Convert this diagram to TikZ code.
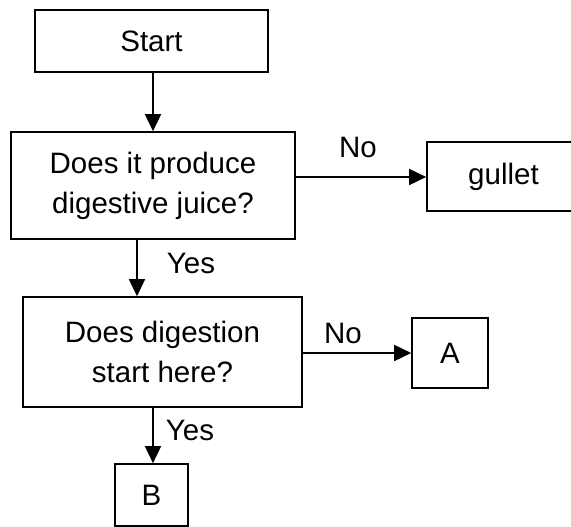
\documentclass[tikz,border=0pt]{standalone}
\usepackage{fontspec}
\setmainfont{Liberation Sans}
\usetikzlibrary{arrows.meta}
\begin{document}
\begin{tikzpicture}[x=1pt,y=-1pt,
  box/.style={draw, line width=1.6pt, inner sep=0pt, align=center,
    font=\fontsize{29.5}{40}\selectfont},
  lbl/.style={font=\fontsize{29.5}{34}\selectfont, inner sep=0pt},
  arr/.style={line width=1.6pt, -{Triangle[length=17pt,width=16pt]}}]
\useasboundingbox (0,0) rectangle (571,527);
\node[box, minimum width=233pt, minimum height=62pt] (start) at (151.5,41) {Start};
\node[box, minimum width=284pt, minimum height=107pt] (q1) at (153,185.5) {Does it produce\\digestive juice?};
\node[box, minimum width=153pt, minimum height=69pt, text width=153pt] (gullet) at (503.5,176.5) {gullet};
\node[box, minimum width=279pt, minimum height=110pt] (q2) at (162.5,352) {Does digestion\\start here?};
\node[box, minimum width=76pt, minimum height=70pt] (a) at (450,353) {A};
\node[box, minimum width=73pt, minimum height=62pt] (b) at (151.5,495) {B};
\coordinate (x1) at (153,0);
\coordinate (x2) at (137,0);
\coordinate (x3) at (153,0);
\coordinate (y1) at (0,177);
\coordinate (y2) at (0,353);
\draw[arr] (start.south -| x1) -- (q1.north -| x1);
\draw[arr] (q1.east |- y1) -- (gullet.west |- y1);
\draw[arr] (q1.south -| x2) -- (q2.north -| x2);
\draw[arr] (q2.east |- y2) -- (a.west |- y2);
\draw[arr] (q2.south -| x3) -- (b.north -| x3);
\node[lbl] (no1) at (358,147) {No};
\node[lbl] (yes1) at (191,263) {Yes};
\node[lbl] (no2) at (343,333) {No};
\node[lbl] (yes2) at (190,430) {Yes};
\end{tikzpicture}
\end{document}
